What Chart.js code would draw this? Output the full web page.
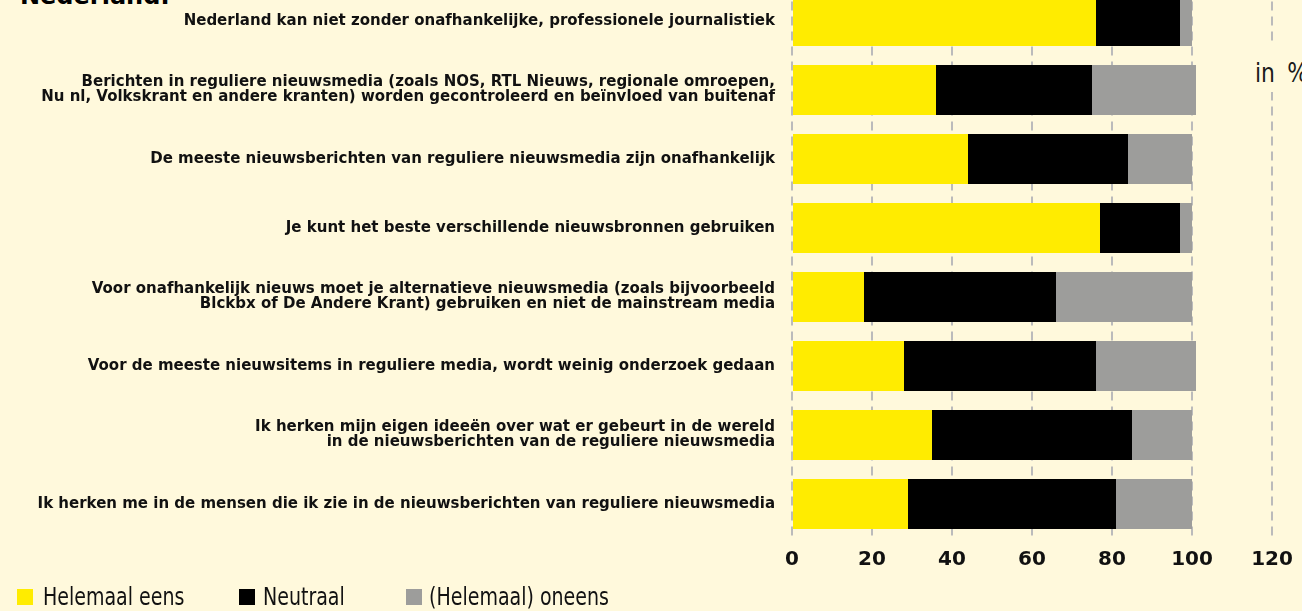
<!DOCTYPE html>
<html>
<head>
<meta charset="utf-8">
<script src="https://cdn.jsdelivr.net/npm/chart.js@4.4.1/dist/chart.umd.min.js"></script>
<style>
  html, body { margin: 0; padding: 0; }
  body { width: 1302px; height: 611px; overflow: hidden; position: relative; background: #fff9dc; }
  #wrap { position: absolute; left: 0; top: -40px; width: 1302px; height: 651px; }
  #title { position: absolute; left: 20px; top: -16px; font: bold 24px/24px "DejaVu Sans", sans-serif; color: #000; white-space: nowrap; }
  #unit { position: absolute; left: 1250px; top: 44px; width: 52px; height: 48px; background: #fff9dc; overflow: hidden;
          box-sizing: border-box; padding: 15px 0 0 5px; color: #1a1a1a; white-space: nowrap; }
  #unit span { display: inline-block; font: 27px/27px "DejaVu Sans Condensed", sans-serif; word-spacing: 6px; transform: scaleX(0.9); transform-origin: 0 0; }
  .lg-box { position: absolute; top: 589px; width: 16px; height: 16px; }
  .lg-txt { position: absolute; top: 585px; font: 24px/24px "DejaVu Sans Condensed", sans-serif; color: #111; white-space: nowrap;
            transform: scaleX(0.88); transform-origin: 0 0; }
</style>
</head>
<body>
<div id="title">Nederland:</div>
<div id="wrap"><canvas id="chart"></canvas></div>
<div id="unit"><span>in %</span></div>
<div id="legend"></div>
<script>
// stellingen (van boven naar beneden)
const categories = [
    "Nederland kan niet zonder onafhankelijke, professionele journalistiek",
    ["Berichten in reguliere nieuwsmedia (zoals NOS, RTL Nieuws, regionale omroepen,",
     "Nu nl, Volkskrant en andere kranten) worden gecontroleerd en beïnvloed van buitenaf"],
    "De meeste nieuwsberichten van reguliere nieuwsmedia zijn onafhankelijk",
    "Je kunt het beste verschillende nieuwsbronnen gebruiken",
    ["Voor onafhankelijk nieuws moet je alternatieve nieuwsmedia (zoals bijvoorbeeld",
     "Blckbx of De Andere Krant) gebruiken en niet de mainstream media"],
    "Voor de meeste nieuwsitems in reguliere media, wordt weinig onderzoek gedaan",
    ["Ik herken mijn eigen ideeën over wat er gebeurt in de wereld",
     "in de nieuwsberichten van de reguliere nieuwsmedia"],
    "Ik herken me in de mensen die ik zie in de nieuwsberichten van reguliere nieuwsmedia"
];

const seriesNames = ["Helemaal eens", "Neutraal", "(Helemaal) oneens"];
const eens     = [76, 36, 44, 77, 18, 28, 35, 29];
const neutraal = [21, 39, 40, 20, 48, 48, 50, 52];
const oneens   = [3, 26, 16, 3, 34, 25, 15, 19];
const xTicks   = [0, 20, 40, 60, 80, 100, 120];

const colors = ["#ffec00", "#000000", "#9d9d9b"];
const legendX = [17, 239, 406];
const legendTextX = [43, 263, 429];

const seriesValues = [eens, neutraal, oneens];

const datasets = seriesNames.map((name, i) => ({
    label: name,
    data: seriesValues[i],
    backgroundColor: colors[i],
    borderWidth: 0,
    barPercentage: 0.725,
    categoryPercentage: 1
}));

// legenda als gewone html
const lg = document.getElementById('legend');
seriesNames.forEach((name, i) => {
    const b = document.createElement('div');
    b.className = 'lg-box';
    b.style.left = legendX[i] + 'px';
    b.style.background = colors[i];
    lg.appendChild(b);
    const t = document.createElement('div');
    t.className = 'lg-txt';
    t.style.left = legendTextX[i] + 'px';
    t.innerText = name;
    lg.appendChild(t);
});

new Chart(document.getElementById('chart'), {
    type: 'bar',
    data: { labels: categories, datasets },
    options: {
        indexAxis: 'y',
        responsive: true,
        maintainAspectRatio: false,
        animation: false,
        layout: { padding: { top: 26.5, right: 30, bottom: 32.5, left: 0 } },
        plugins: { legend: { display: false }, tooltip: { enabled: false } },
        scales: {
            x: {
                stacked: true,
                min: xTicks[0],
                max: xTicks[xTicks.length - 1],
                afterBuildTicks: (scale) => { scale.ticks = xTicks.map(v => ({ value: v })); },
                afterFit: (scale) => { scale.height = 40; },
                ticks: { color: '#111', padding: 9, font: { family: 'DejaVu Sans', weight: 'bold', size: 20 } },
                grid: { color: '#bbbbbb', lineWidth: 2, drawTicks: false },
                border: { display: false, dash: [9, 6] }
            },
            y: {
                stacked: true,
                afterFit: (scale) => { scale.width = 792; },
                ticks: { color: '#111', padding: 9, font: { family: 'DejaVu Sans', weight: 'bold', size: 15, lineHeight: 1.0 } },
                grid: { display: false },
                border: { display: false }
            }
        }
    }
});
</script>
</body>
</html>
